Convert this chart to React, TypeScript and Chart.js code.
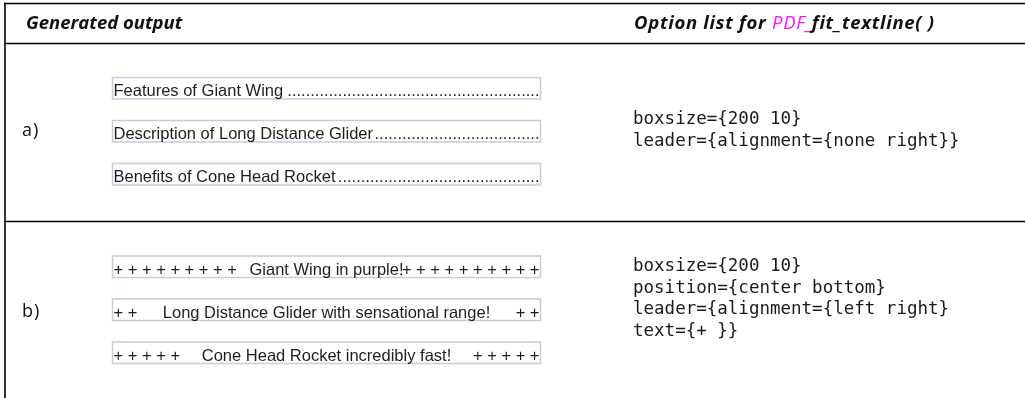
import React, { useEffect, useRef } from "react";
import { Chart, registerables } from "chart.js";
Chart.register(...registerables);

// ---- content ----
const headerLeft = "Generated output";
const headerRight = "Option list for PDF_fit_textline( )";
const headerHighlight = "PDF_";
const rowLabels = ["a)", "b)"];

const leaderTextsA = [
  "Features of Giant Wing",
  "Description of Long Distance Glider",
  "Benefits of Cone Head Rocket",
];
const centerTextsB = [
  "Giant Wing in purple!",
  "Long Distance Glider with sensational range!",
  "Cone Head Rocket incredibly fast!",
];
const leftLeadersB = ["+ + + + + + + + +", "+ +", "+ + + + +"];
const rightLeadersB = ["+ + + + + + + + + +", "+ +", "+ + + + +"];

const optionsA = ["boxsize={200 10}", "leader={alignment={none right}}"];
const optionsB = [
  "boxsize={200 10}",
  "position={center bottom}",
  "leader={alignment={left right}",
  "text={+ }}",
];

const W = 1025;
const H = 398;

const tablePlugin = {
  id: "tablePlugin",
  beforeDraw(chart: any) {
    const c = chart.ctx;
    c.save();
    c.fillStyle = "#ffffff";
    c.fillRect(0, 0, chart.width, chart.height);
    c.restore();
  },
  afterDraw(chart: any) {
    const c: any = chart.ctx;
    const xs = chart.scales.x;
    const ys = chart.scales.y;
    const px = (v: number) => xs.getPixelForValue(v);
    const py = (v: number) => ys.getPixelForValue(v);
    c.save();

    // table rules
    c.strokeStyle = "#000";
    c.lineWidth = 1.6;
    const hline = (y: number) => {
      c.beginPath();
      c.moveTo(px(4.2), py(y));
      c.lineTo(px(W), py(y));
      c.stroke();
    };
    hline(3.5);
    hline(43.5);
    hline(221.5);
    c.beginPath();
    c.moveTo(px(5), py(2.7));
    c.lineTo(px(5), py(H));
    c.stroke();

    // headers
    const boldIt = "italic 700 18.5px 'Open Sans'";
    const regIt = "italic 400 18.5px 'Open Sans'";
    c.textBaseline = "alphabetic";
    c.textAlign = "left";
    c.fillStyle = "#111";
    c.font = boldIt;
    c.fillText(headerLeft, px(26), py(29));
    const hi = headerRight.indexOf(headerHighlight);
    const seg1 = headerRight.slice(0, hi);
    const seg2 = headerRight.slice(hi, hi + headerHighlight.length);
    const seg3 = headerRight.slice(hi + headerHighlight.length);
    c.letterSpacing = "0.7px";
    let hx = px(634);
    c.font = boldIt;
    c.fillText(seg1, hx, py(29));
    hx += c.measureText(seg1).width;
    c.font = regIt;
    c.fillStyle = "#ff10ff";
    c.fillText(seg2, hx, py(29));
    hx += c.measureText(seg2).width;
    c.font = boldIt;
    c.fillStyle = "#111";
    c.fillText(seg3, hx - 2, py(29));
    c.letterSpacing = "0px";

    // row labels
    c.font = "400 18px 'Open Sans'";
    c.letterSpacing = "1px";
    c.textBaseline = "middle";
    c.fillStyle = "#111";
    c.fillText(rowLabels[0], px(22), py(131));
    c.fillText(rowLabels[1], px(22), py(312));
    c.letterSpacing = "0px";

    // boxes
    const bx0 = px(112.5);
    const bx1 = px(540.5);
    const boxH = 21.5;
    const boxTopsA = [77.5, 120.5, 163.5];
    const boxTopsB = [256, 299, 342];
    const boxFont = "16.5px 'Liberation Sans'";
    const drawBox = (top: number) => {
      c.strokeStyle = "#c9c9e0";
      c.lineWidth = 1.5;
      c.strokeRect(bx0, py(top), bx1 - bx0, py(top + boxH) - py(top));
    };

    c.textBaseline = "alphabetic";
    leaderTextsA.forEach((t, i) => {
      const top = boxTopsA[i];
      drawBox(top);
      const base = py(top + 18.5);
      c.font = boxFont;
      c.fillStyle = "#1e1e1e";
      c.textAlign = "left";
      c.fillText(t, bx0 + 1, base);
      const tEnd = bx0 + 1 + c.measureText(t).width;
      const dotW = c.measureText(".").width;
      const n = Math.floor((bx1 - 1 - tEnd) / dotW);
      c.textAlign = "right";
      c.fillText(".".repeat(Math.max(0, n)), bx1 - 1, base);
    });

    centerTextsB.forEach((t, i) => {
      const top = boxTopsB[i];
      drawBox(top);
      const base = py(top + 18.5);
      c.font = boxFont;
      c.fillStyle = "#1e1e1e";
      c.textAlign = "center";
      c.fillText(t, (bx0 + bx1) / 2, base);
      c.textAlign = "left";
      c.fillText(leftLeadersB[i], bx0 + 1, base);
      c.textAlign = "right";
      c.fillText(rightLeadersB[i], bx1 - 1, base);
    });

    // option lists
    c.font = "17.5px 'DejaVu Sans Mono'";
    c.textAlign = "left";
    c.textBaseline = "middle";
    c.fillStyle = "#1a1a1a";
    const yA = [119, 141];
    optionsA.forEach((t, i) => c.fillText(t, px(633), py(yA[i])));
    const yB = [266, 288, 309.5, 331];
    optionsB.forEach((t, i) => c.fillText(t, px(633), py(yB[i])));

    c.restore();
  },
};

export default function App() {
  const ref = useRef<HTMLCanvasElement | null>(null);
  useEffect(() => {
    document.body.style.margin = "0";
    const canvas = ref.current!;
    const chart = new Chart(canvas, {
      type: "scatter",
      data: { datasets: [] },
      options: {
        animation: false,
        responsive: false,
        devicePixelRatio: 1,
        layout: { padding: 0 },
        plugins: { legend: { display: false }, tooltip: { enabled: false } },
        scales: {
          x: { type: "linear", min: 0, max: W, display: false },
          y: { type: "linear", min: 0, max: H, reverse: true, display: false },
        },
      },
      plugins: [tablePlugin],
    });
    return () => chart.destroy();
  }, []);
  return (
    <div style={{ width: W, height: H }}>
      <canvas ref={ref} width={W} height={H} style={{ display: "block" }} />
    </div>
  );
}
